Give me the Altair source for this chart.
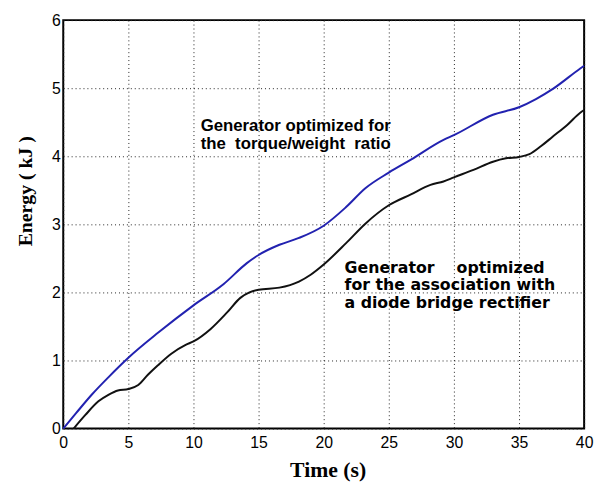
import altair as alt
import pandas as pd

# Blue curve: generator optimized for the torque/weight ratio
blue_t = [0, 1, 2.2, 3.5, 5, 7.3, 10, 12.3, 14.1, 15, 16.6, 18.1, 20, 21.7, 23.2,
          25, 26.7, 29.2, 30, 33, 35, 36.3, 37.6, 39.7, 40]
blue_e = [0, 0.23, 0.50, 0.76, 1.04, 1.41, 1.81, 2.12, 2.43, 2.55, 2.70, 2.80, 2.98, 3.25, 3.53,
          3.76, 3.95, 4.24, 4.31, 4.61, 4.72, 4.84, 4.99, 5.29, 5.33]

# Black curve: generator optimized for the association with a diode bridge rectifier
black_t = [0.8, 1.7, 2.7, 3.5, 4.2, 5, 5.76, 6.5, 7.27, 8.3, 9.4, 10, 11.3, 12.6, 13.6,
           14.3, 15, 16.6, 18.1, 19, 20, 21.7, 23.2, 25, 26.7, 28.2, 29.2, 30, 31.5,
           33, 34, 35, 35.8, 36.7, 37.6, 38.7, 39.7, 40]
black_e = [0, 0.20, 0.40, 0.50, 0.56, 0.58, 0.64, 0.79, 0.93, 1.10, 1.23, 1.28, 1.46, 1.71, 1.92,
           2.0, 2.04, 2.07, 2.16, 2.26, 2.41, 2.72, 3.01, 3.28, 3.44, 3.58, 3.63, 3.69, 3.80,
           3.92, 3.97, 3.99, 4.03, 4.15, 4.29, 4.46, 4.64, 4.68]

series_names = ["torque/weight", "diode bridge"]
series_colors = ["#2222b0", "#111111"]

x_ticks = [0, 5, 10, 15, 20, 25, 30, 35, 40]
y_ticks = [0, 1, 2, 3, 4, 5, 6]

NB = "\u00a0"
ann1_x = [10.55]
ann1_y = [4.37]
ann1_text = ["Generator optimized for\nthe" + NB + NB + "torque/weight" + NB + NB + "ratio"]

ann2_x = [21.6]
ann2_y = [2.29]
ann2_text = ["Generator" + NB * 4 + "optimized\nfor the association with\na diode bridge rectifier"]

rows = []
for t, e in zip(blue_t, blue_e):
    rows.append({"t": t, "E": e, "s": series_names[0]})
for t, e in zip(black_t, black_e):
    rows.append({"t": t, "E": e, "s": series_names[1]})
df = pd.DataFrame(rows)

xscale = alt.Scale(domain=[0, 40], nice=False, zero=False)
yscale = alt.Scale(domain=[0, 6], nice=False)

lines = alt.Chart(df).mark_line(strokeWidth=2, interpolate="monotone").encode(
    x=alt.X("t:Q", scale=xscale,
            axis=alt.Axis(title="Time (s)", values=x_ticks, format="d", grid=True, ticks=False,
                          domain=False, labelFontSize=16, labelFont="Liberation Sans",
                          labelColor="black", labelPadding=6, labelFlush=False,
                          titleFont="Liberation Serif", titleFontWeight="bold", titleFontSize=22,
                          titleColor="black", titleX=268, titleY=49, titleBaseline="alphabetic",
                          gridColor="#222222", gridDash=[1, 3], gridWidth=1)),
    y=alt.Y("E:Q", scale=yscale,
            axis=alt.Axis(title="Energy ( kJ )", values=y_ticks, format="d", grid=True, ticks=False,
                          domain=False, labelFontSize=16, labelFont="Liberation Sans",
                          labelColor="black", labelPadding=3, labelFlush=False,
                          titleFont="Liberation Serif", titleFontWeight="bold", titleFontSize=20,
                          titleColor="black", titleAngle=270, titleX=-38, titleY=173,
                          titleBaseline="middle", titleAlign="center",
                          gridColor="#222222", gridDash=[1, 3], gridWidth=1)),
    color=alt.Color("s:N", scale=alt.Scale(domain=series_names, range=series_colors), legend=None),
    order=alt.Order("t:Q"),
)

ann1 = alt.Chart(pd.DataFrame({"x": ann1_x, "y": ann1_y, "text": ann1_text})).mark_text(
    align="left", baseline="alphabetic", font="Liberation Sans", fontWeight="bold",
    fontSize=17, color="black", lineBreak="\n", lineHeight=18
).encode(x=alt.X("x:Q", scale=xscale), y=alt.Y("y:Q", scale=yscale), text="text:N")

ann2 = alt.Chart(pd.DataFrame({"x": ann2_x, "y": ann2_y, "text": ann2_text})).mark_text(
    align="left", baseline="alphabetic", font="DejaVu Sans", fontWeight="bold",
    fontSize=16, color="black", lineBreak="\n", lineHeight=18
).encode(x=alt.X("x:Q", scale=xscale), y=alt.Y("y:Q", scale=yscale), text="text:N")

chart = alt.layer(lines, ann1, ann2).properties(
    width=528, height=414,
    autosize=alt.AutoSizeParams(type="none"),
    padding={"left": 56, "top": 9, "right": 10, "bottom": 60},
    background="white",
).configure_view(stroke="black", strokeWidth=2)

chart.save("out.html", embed_options={"renderer": "svg", "actions": False})
